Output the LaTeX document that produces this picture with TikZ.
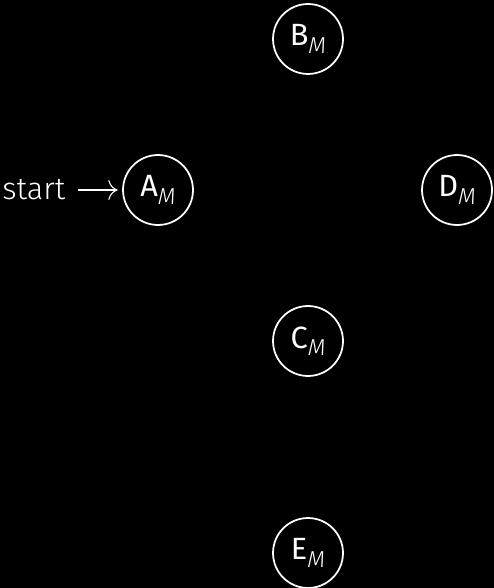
\documentclass[tikz,border=0pt]{standalone}
\usepackage{fontspec}
\setmainfont{Fira Sans}[ItalicFont=* Light Italic]
\newfontfamily\lightfont{Fira Sans}[UprightFont=* Light]
\usetikzlibrary{arrows.meta}

\newcommand{\stname}[1]{#1\raisebox{-0.45ex}{\fontsize{10.5}{12}\selectfont\itshape M}}

\tikzset{
  state/.style={draw=white, circle, line width=0.8pt, minimum size=1.12cm,
    inner sep=0pt, text=white, font=\fontsize{14}{17}\selectfont},
}

\begin{document}
\begin{tikzpicture}[x=0.016cm, y=-0.016cm]
    \fill[black] (0,0) rectangle (494,588);
    \useasboundingbox (0,0) rectangle (494,588);
    % states
    \node[state] (A) at (158,190) {\stname{A}};
    \node[state] (B) at (308,39) {\stname{B}};
    \node[state] (D) at (457,190) {\stname{D}};
    \node[state] (C) at (308,341) {\stname{C}};
    \node[state] (E) at (308,553) {\stname{E}};
    % initial arrow
    \node[text=white, anchor=east, inner sep=1pt, font=\lightfont\fontsize{14}{17}\selectfont] (start) at (68,190) {start};
    \draw[white, -{To[scale=1.6]}, line width=0.5pt, shorten <=4.5pt, shorten >=2pt] (start) -- (A);
\end{tikzpicture}
\end{document}
